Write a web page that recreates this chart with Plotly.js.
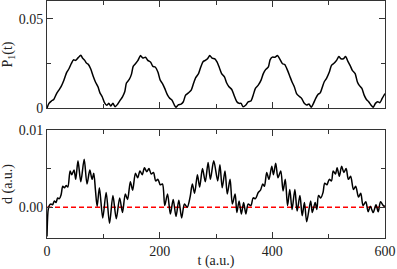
<!DOCTYPE html>
<html>
<head>
<meta charset="utf-8">
<script src="https://cdn.plot.ly/plotly-3.0.1.min.js"></script>
<style>html,body{margin:0;padding:0;background:#fff;}#chart{width:397px;height:269px;}</style>
</head>
<body>
<div id="chart"></div>
<script>
// Top panel: P1(t)
var tTop = [0,3.5,7.7,12,17,21,25,30,35,39,43,47,51,55,60,63,67,70,73,77.5,82,86,90.5,94,98,102,106,110,113,117,121,125,130,134,138,141,146,150,153,157,161.5,166,170,175,179,184,188,192,197,201,205,209,214,218,222,226,229,233,238,242,246,251,256,260,264,269,273,277,281,285,289,293,298,302,306,310,315,319,323,328,332,337,341,344.5,348,353,357,362,366,370,375,380,384,388,393,396,400,405,409,413,418,422,427,431,435,439,443,447,452,456,461,465,469,473,477,481,485,489,492,496,501,505,510,514,518,522,526,530,534,538,542,547,551,554,559,563,567,571,575,579,583,587,591,595,600];
var pTop = [0,0.0026,0.0039,0.0048,0.0081,0.0100,0.0120,0.0156,0.0200,0.0220,0.0248,0.0270,0.0267,0.0281,0.0296,0.0280,0.0267,0.0252,0.0246,0.0220,0.0178,0.0146,0.0119,0.0085,0.0063,0.0030,0.0015,0.0026,0.0011,0.0026,0.0007,0.0020,0.0044,0.0063,0.0091,0.0140,0.0160,0.0190,0.0233,0.0248,0.0267,0.0294,0.0280,0.0285,0.0267,0.0257,0.0233,0.0230,0.0200,0.0156,0.0137,0.0110,0.0072,0.0054,0.0044,0.0017,0.0004,0.0017,0.0022,0.0035,0.0072,0.0085,0.0100,0.0137,0.0170,0.0193,0.0230,0.0260,0.0267,0.0276,0.0294,0.0280,0.0276,0.0257,0.0226,0.0193,0.0174,0.0140,0.0119,0.0104,0.0072,0.0035,0.0026,0.0026,0.0007,0.0017,0.0035,0.0039,0.0072,0.0110,0.0128,0.0156,0.0193,0.0215,0.0230,0.0270,0.0285,0.0285,0.0294,0.0276,0.0248,0.0244,0.0211,0.0178,0.0146,0.0119,0.0081,0.0067,0.0054,0.0030,0.0017,0.0022,0.0004,0.0026,0.0054,0.0076,0.0085,0.0119,0.0146,0.0165,0.0200,0.0239,0.0252,0.0267,0.0289,0.0276,0.0276,0.0289,0.0263,0.0239,0.0211,0.0193,0.0146,0.0128,0.0110,0.0072,0.0048,0.0035,0.0017,0.0004,0.0026,0.0035,0.0030,0.0054,0.0081];

// Bottom panel: d(t)
var tBot = [0,2,4,7,10,13,16,19,22,25,28,31,34,37,41,44,48,51,55,60,66,71,76,80,83,86,89,93,99,105,111,117,123,129,134,139,143,148,152,157,161,165,169,173,177,181,185,189,193,197,201,205,209,214,219,224,229,234,239,244,249,254,258,262,267,271,276,281,286,290,296,303,307,311,316,320,325,329,334,337,341,345,349,353,357,362,366,370,375,379,383,386,390,394,399,402,406,410,415,419,423,427,431,435,440,444,449,453,457,461,468,471,476,479,482,486,490,493,497,501,505,508,512,515,519,523,527,531,535,539,544,548,553,557,561,566,570,574,579,584,588,592,597,600];
var dBot = [-0.0038,-0.0004,0.0002,0.0004,0.0003,0.0008,0.0006,0.0012,0.0011,0.0016,0.0027,0.0025,0.0028,0.0026,0.0047,0.0042,0.0048,0.0036,0.0060,0.0033,0.0062,0.0030,0.0048,0.0036,0.0044,0.0022,0.0001,0.0025,-0.0014,0.0019,-0.0021,0.0015,-0.0015,0.0012,-0.0007,0.0017,0.0010,0.0033,0.0022,0.0044,0.0038,0.0047,0.0042,0.0051,0.0046,0.0050,0.0043,0.0045,0.0034,0.0036,0.0029,0.0030,0.0002,0.0017,-0.0009,0.0010,-0.0012,0.0009,-0.0014,0.0004,0.0000,0.0013,0.0030,0.0018,0.0042,0.0026,0.0050,0.0033,0.0058,0.0036,0.0060,0.0034,0.0055,0.0025,0.0047,0.0017,0.0036,0.0004,0.0017,-0.0007,0.0008,-0.0009,0.0006,-0.0009,0.0004,0.0002,0.0012,0.0011,0.0019,0.0022,0.0030,0.0027,0.0045,0.0036,0.0053,0.0042,0.0057,0.0038,0.0047,0.0021,0.0036,0.0002,0.0023,-0.0003,0.0023,-0.0005,0.0015,-0.0011,0.0006,-0.0019,0.0008,-0.0007,0.0006,-0.0003,0.0015,0.0012,0.0019,0.0031,0.0029,0.0036,0.0034,0.0047,0.0043,0.0051,0.0040,0.0053,0.0045,0.0050,0.0036,0.0040,0.0023,0.0027,0.0013,0.0018,0.0002,0.0007,-0.0006,0.0001,-0.0007,0.0003,-0.0006,0.0007,0.0002,0.0001];

// Reference line d = 0
var refT = [0, 600];
var refD = [0, 0];

var xTickVals = [0, 200, 400, 600];
var xTickText = ['0', '200', '400', '600'];
var xMinorVals = [100, 300, 500];
var topTickVals = [0, 0.05];
var topTickText = ['0', '0.05'];
var topMinorVals = [0.025];
var botTickVals = [0, 0.01];
var botTickText = ['0.00', '0.01'];
var botMinorVals = [0.005];

var FONT = 'Liberation Serif';
var AX = '#333';

var traces = [
  {x: tTop, y: pTop, xaxis: 'x', yaxis: 'y', type: 'scatter', mode: 'lines',
   line: {color: '#000', width: 1.5, shape: 'spline', smoothing: 0.6}, hoverinfo: 'skip'},
  {x: refT, y: refD, xaxis: 'x2', yaxis: 'y2', type: 'scatter', mode: 'lines',
   line: {color: '#ff0000', width: 1.5, dash: '5px,3px'}, hoverinfo: 'skip'},
  {x: tBot, y: dBot, xaxis: 'x2', yaxis: 'y2', type: 'scatter', mode: 'lines',
   line: {color: '#000', width: 1.5, shape: 'spline', smoothing: 0.8}, hoverinfo: 'skip'}
];

function xax(showLabels, anchor, title) {
  var a = {
    domain: [0, 1], anchor: anchor, range: [0, 600],
    showline: true, linecolor: AX, linewidth: 1, mirror: 'ticks',
    ticks: 'inside', ticklen: 6, tickcolor: AX, tickwidth: 1,
    tickmode: 'array', tickvals: xTickVals, ticktext: xTickText,
    minor: {tickmode: 'array', tickvals: xMinorVals, ticks: 'inside', ticklen: 4, tickcolor: AX, tickwidth: 1},
    showticklabels: showLabels, showgrid: false, zeroline: false,
    tickfont: {family: FONT, size: 14, color: '#222'}
  };
  if (title) a.title = {text: title, font: {family: FONT, size: 14, color: '#222'}, standoff: 2};
  return a;
}
function yax(domain, anchor, range, tv, tt, mv, title) {
  return {
    domain: domain, anchor: anchor, range: range,
    showline: true, linecolor: AX, linewidth: 1, mirror: 'ticks',
    ticks: 'inside', ticklen: 6, tickcolor: AX, tickwidth: 1,
    tickmode: 'array', tickvals: tv, ticktext: tt,
    minor: {tickmode: 'array', tickvals: mv, ticks: 'inside', ticklen: 4, tickcolor: AX, tickwidth: 1},
    showgrid: false, zeroline: false,
    tickfont: {family: FONT, size: 14, color: '#222'},
    title: {text: title, font: {family: FONT, size: 14, color: '#222'}, standoff: 4}
  };
}

var layout = {
  width: 397, height: 269,
  margin: {l: 47, r: 12, t: 1, b: 31, pad: 0},
  paper_bgcolor: '#fff', plot_bgcolor: '#fff',
  showlegend: false,
  font: {family: FONT, size: 14, color: '#222'},
  xaxis: xax(false, 'y', null),
  xaxis2: xax(true, 'y2', 't (a.u.)'),
  yaxis: yax([0.5485, 1], 'x', [0, 0.06], topTickVals, topTickText, topMinorVals, 'P<sub>1</sub>(t)'),
  yaxis2: yax([0, 0.4557], 'x2', [-0.004, 0.01], botTickVals, botTickText, botMinorVals, 'd (a.u.)')
};

Plotly.newPlot('chart', traces, layout, {staticPlot: true, displayModeBar: false});
</script>
</body>
</html>
